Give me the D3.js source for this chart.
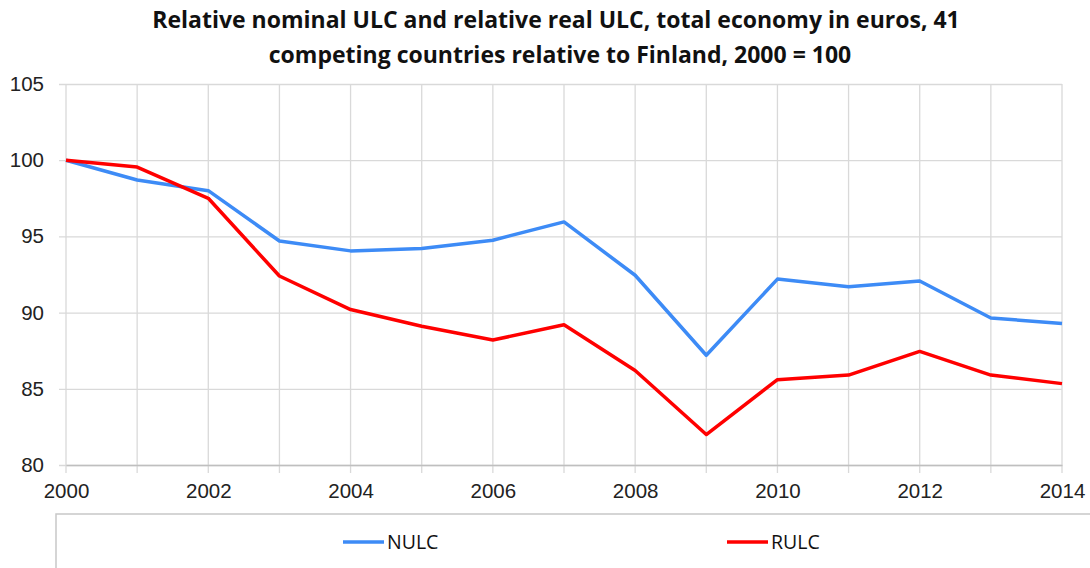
<!DOCTYPE html>
<html>
<head>
<meta charset="utf-8">
<script src="https://cdn.jsdelivr.net/npm/d3@7"></script>
<style>
  body { margin: 0; background: #fff; }
  svg { display: block; font-family: "Open Sans", sans-serif; }
  .tick text { fill: #222; font-size: 20.5px; }
</style>
</head>
<body>
<svg id="chart" width="1090" height="568"></svg>
<script>
const years = d3.range(2000, 2015);
const nulc = [100, 98.7, 98.0, 94.7, 94.05, 94.2, 94.75, 95.95, 92.45, 87.2, 92.2, 91.7, 92.07, 89.65, 89.28];
const rulc = [100, 99.55, 97.5, 92.4, 90.2, 89.1, 88.2, 89.2, 86.2, 82.0, 85.6, 85.9, 87.45, 85.9, 85.34];
const yTicks = [80, 85, 90, 95, 100, 105];
const xLabels = [2000, 2002, 2004, 2006, 2008, 2010, 2012, 2014];
const series = [
    { name: 'NULC', values: nulc, color: '#3d8bf6' },
    { name: 'RULC', values: rulc, color: '#ff0000' }
];

const W = 1090, H = 568;
const MARGIN = { top: 84, right: 28, bottom: 103, left: 66 };
const svg = d3.select('#chart');

const x = d3.scaleLinear().domain([2000, 2014]).range([MARGIN.left, W - MARGIN.right]);
const y = d3.scaleLinear().domain([80, 105]).range([H - MARGIN.bottom, MARGIN.top]);

// title
const title = svg.append('text')
    .attr('text-anchor', 'middle')
    .attr('font-weight', 'bold')
    .attr('font-size', 23)
    .attr('fill', '#111');
title.append('tspan').attr('x', 556).attr('y', 28)
    .text('Relative nominal ULC and relative real ULC, total economy in euros, 41');
title.append('tspan').attr('x', 560).attr('y', 63)
    .text('competing countries relative to Finland, 2000 = 100');

// horizontal grid + y labels
svg.append('g')
    .attr('transform', `translate(${MARGIN.left},0)`)
    .call(d3.axisLeft(y).tickValues(yTicks).tickSize(-(W - MARGIN.right - MARGIN.left)).tickPadding(22))
    .call(a => a.select('.domain').remove())
    .call(a => a.selectAll('.tick line').attr('stroke', '#d9d9d9').attr('stroke-width', 1.3)
        .attr('x1', -7));

// vertical grid
svg.append('g')
    .selectAll('line')
    .data(years)
    .join('line')
    .attr('x1', d => x(d)).attr('x2', d => x(d))
    .attr('y1', y(105)).attr('y2', y(80) + 8)
    .attr('stroke', '#d9d9d9').attr('stroke-width', 1.3);

// x axis
svg.append('g')
    .attr('transform', `translate(0,${y(80)})`)
    .call(d3.axisBottom(x).tickValues(xLabels).tickFormat(d3.format('d')).tickSize(0).tickPadding(18))
    .call(a => a.select('.domain').attr('stroke', '#bfbfbf').attr('stroke-width', 1.5));

// lines
const line = d3.line()
    .x((d, i) => x(years[i]))
    .y(d => y(d));

svg.append('g')
    .selectAll('path')
    .data(series)
    .join('path')
    .attr('d', d => line(d.values))
    .attr('fill', 'none')
    .attr('stroke', d => d.color)
    .attr('stroke-width', 3.5)
    .attr('stroke-linejoin', 'round');

// legend box
svg.append('rect')
    .attr('x', 56).attr('y', 514)
    .attr('width', 1100).attr('height', 100)
    .attr('fill', 'none').attr('stroke', '#c8c8c8').attr('stroke-width', 1.5);

const legendX = [343, 727];
const lg = svg.append('g')
    .selectAll('g')
    .data(series)
    .join('g')
    .attr('transform', (d, i) => `translate(${legendX[i]},542)`);
lg.append('line')
    .attr('x1', 0).attr('x2', 41)
    .attr('stroke', d => d.color).attr('stroke-width', 3.5);
lg.append('text')
    .attr('x', 44).attr('y', 7)
    .attr('font-size', 19.5).attr('fill', '#111')
    .text(d => d.name);
</script>
</body>
</html>
